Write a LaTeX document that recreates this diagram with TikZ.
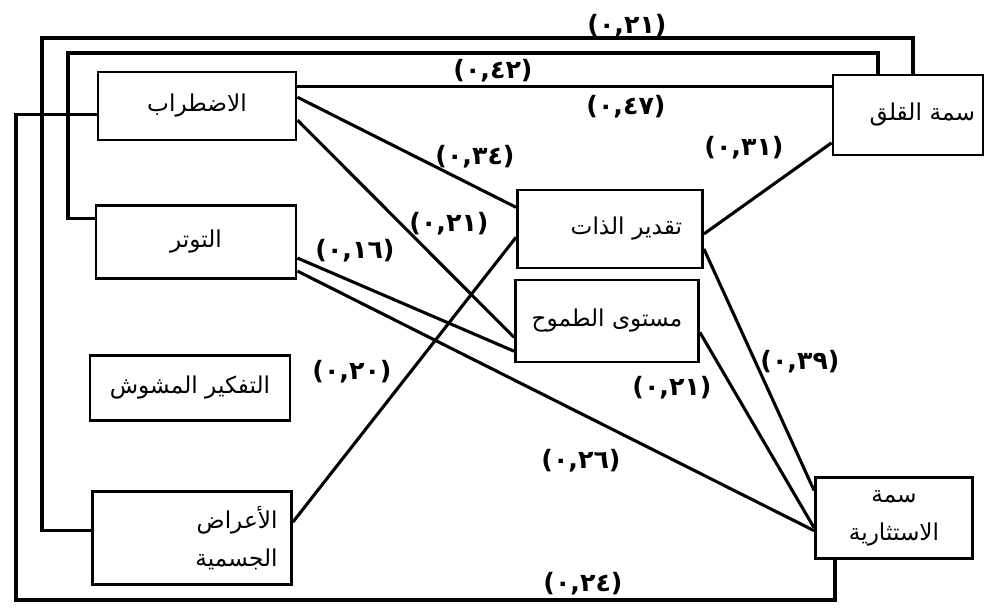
\documentclass[tikz,border=0pt]{standalone}
\usepackage{fontspec}
\newfontfamily\arabicfont[Script=Arabic]{DejaVu Sans}
\TeXXeTstate=1

\begin{document}
\begin{tikzpicture}[x=0.025cm, y=-0.025cm,
  box/.style={draw, line width=2pt, inner sep=0pt, align=center,
              font=\arabicfont\fontsize{16.5}{27}\selectfont},
  coef/.style={font=\arabicfont\bfseries\fontsize{18}{20}\selectfont, inner sep=1pt},
  ln/.style={line width=2.2pt, line join=miter}]

\useasboundingbox (0,0) rectangle (986,610);

%% --- left column ---
\node[box, minimum width=4.95cm,  minimum height=1.7cm]   (DIS) at (197,106) {\beginR الاضطراب\endR};
\node[box, minimum width=5.0cm,   minimum height=1.825cm] (TEN) at (196,242) {\beginR التوتر\endR};
\node[box, minimum width=5.0cm,   minimum height=1.625cm] (CON) at (190,388) {\beginR التفكير المشوش\endR};
\node[box, minimum width=4.975cm, minimum height=2.325cm,
      text width=4.275cm, align=right]                   (SOM) at (192,538) {\beginR الأعراض\endR\\\beginR الجسمية\endR};

%% --- middle column ---
\node[box, minimum width=4.625cm, minimum height=1.95cm,
      text width=3.6cm, align=right]                     (SLF) at (610,229) {\beginR تقدير الذات\endR};
\node[box, minimum width=4.575cm, minimum height=2.05cm]  (ASP) at (607,321) {\beginR مستوى الطموح\endR};

%% --- right column ---
\node[box, minimum width=3.75cm,  minimum height=2.0cm,
      text width=3.35cm, align=right]                    (TRA) at (908,115) {\beginR سمة القلق\endR};
\node[box, minimum width=3.925cm, minimum height=2.025cm] (EXC) at (894,518) {\beginR سمة\endR\\\beginR الاستثارية\endR};

%% --- loop corners ---
\coordinate (botL)  at (16,600);
\coordinate (botR)  at (835,600);
\coordinate (topLa) at (42,38);
\coordinate (topRa) at (913,38);
\coordinate (topLb) at (68,53);
\coordinate (topRb) at (878,53);

%% --- straight paths ---
\draw[ln] (DIS.11) -- (DIS.11 -| TRA.west);
\draw[ln] (DIS.5)   -- (SLF.167);
\draw[ln] (DIS.-8)  -- (ASP.190);
\draw[ln] (TEN.-9)  -- (ASP.198);
\draw[ln] (TEN.-16) -- (EXC.189);
\draw[ln] (SOM.9)   -- (SLF.185);
\draw[ln] (SLF.-3)  -- (TRA.200);
\draw[ln] (SLF.-12) -- (EXC.161);
\draw[ln] (ASP.-7)  -- (EXC.187);

%% --- loops round the left ---
\draw[ln] (DIS.185) -| (botL) -- (botR) -- (botR |- EXC.south);
\draw[ln] (SOM.176) -| (topLa) -- (topRa) -- (topRa |- TRA.north);
\draw[ln] (TEN.167) -| (topLb) -- (topRb) -- (topRb |- TRA.north);

%% --- coefficients ---
\node[coef] (k21a) at (627,26)  {(٠,٢١)};
\node[coef] (k42)  at (493,71)  {(٠,٤٢)};
\node[coef] (k47)  at (626,107) {(٠,٤٧)};
\node[coef] (k34)  at (475,157) {(٠,٣٤)};
\node[coef] (k31)  at (744,148) {(٠,٣١)};
\node[coef] (k21b) at (449,224) {(٠,٢١)};
\node[coef] (k16)  at (355,251) {(٠,١٦)};
\node[coef] (k20)  at (352,372) {(٠,٢٠)};
\node[coef] (k39)  at (800,362) {(٠,٣٩)};
\node[coef] (k21c) at (672,388) {(٠,٢١)};
\node[coef] (k26)  at (581,461) {(٠,٢٦)};
\node[coef] (k24)  at (583,584) {(٠,٢٤)};
\end{tikzpicture}
\end{document}
